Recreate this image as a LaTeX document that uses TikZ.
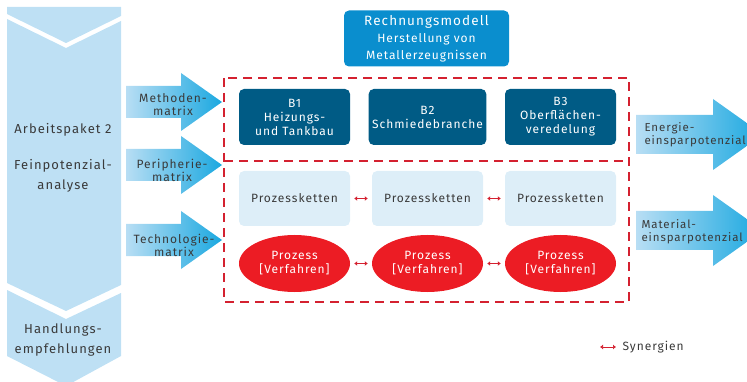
\documentclass[tikz,border=0pt]{standalone}
\usepackage{fontspec}
\setmainfont{Fira Sans}[LetterSpace=8]
\usetikzlibrary{shapes.geometric,arrows.meta}
\definecolor{chevron}{HTML}{BEE0F4}
\definecolor{modelbox}{HTML}{0A8ECE}
\definecolor{darkbox}{HTML}{005B85}
\definecolor{palebox}{HTML}{DDEEF8}
\definecolor{redproc}{HTML}{EC1C24}
\definecolor{dashred}{HTML}{D42130}
\definecolor{arrowlight}{HTML}{B8DEF4}
\definecolor{arrowdark}{HTML}{1AA8E0}
\definecolor{textgray}{HTML}{3A3A3A}
\tikzset{
  branch/.style={fill=darkbox,rounded corners=5pt,text=white,minimum width=111,minimum height=56,align=center,font=\fontsize{12}{14}\selectfont},
  chain/.style={fill=palebox,rounded corners=5pt,text=textgray,minimum width=111,minimum height=55,font=\fontsize{12}{14}\selectfont},
  proc/.style={ellipse,fill=redproc,text=white,minimum width=111,minimum height=57,inner sep=0pt,align=center,font=\fontsize{12}{14}\selectfont},
  syn/.style={{Latex[length=3pt,width=5pt]}-{Latex[length=3pt,width=5pt]},draw=dashred,line width=1pt},
  label/.style={text=textgray,align=center,font=\fontsize{12}{13}\selectfont},
  bigtext/.style={text=textgray,align=center,font=\fontsize{13}{20}\selectfont},
  frame/.style={draw=dashred,line width=2.5pt,dash pattern=on 9pt off 6pt},
  matrixarrow/.style={left color=arrowlight,right color=arrowdark}
}
\newcommand{\fatarrow}[6]{%
  \shade[matrixarrow] (#1,#4-#5) -- (#2,#4-#5) -- (#2,#4-#6) -- (#3,#4)
    -- (#2,#4+#6) -- (#2,#4+#5) -- (#1,#4+#5) -- cycle;}

\begin{document}
\begin{tikzpicture}[x=1pt,y=-1pt]
  \useasboundingbox (0,0) rectangle (747,382);
  % left chevrons
  \fill[chevron] (7,7) -- (121,7) -- (121,16) -- (66,43) -- (7,14) -- cycle;
  \fill[chevron] (7,19) -- (66,48) -- (121,21) -- (121,285) -- (66,311) -- (7,283) -- cycle;
  \fill[chevron] (7,290) -- (66,319) -- (121,293) -- (121,356) -- (66,386) -- (7,356) -- cycle;
  \node[bigtext] (ap) at (63,130) {Arbeitspaket 2};
  \node[bigtext] (fp) at (63,176) {Feinpotenzial-\\analyse};
  \node[bigtext] (hl) at (63,340) {Handlungs-\\empfehlungen};

  % matrix arrows
  \fatarrow{126}{181}{222}{102}{16}{29}
  \fatarrow{126}{181}{222}{165}{16}{29}
  \fatarrow{126}{181}{222}{240}{16}{29}
  \node[label] (mm) at (173,105) {Methoden-\\matrix};
  \node[label] (pm) at (172,170) {Peripherie-\\matrix};
  \node[label] (tm) at (174,245) {Technologie-\\matrix};

  % potential arrows
  \fatarrow{636}{713}{763}{134.5}{19.5}{35.5}
  \fatarrow{636}{713}{763}{230.5}{19.5}{35.5}
  \node[label,align=left,anchor=west,font=\fontsize{11.5}{13}\selectfont] (ep) at (641,135) {Energie-\\einsparpotenzial};
  \node[label,align=left,anchor=west,font=\fontsize{11.5}{13}\selectfont] (mp) at (638,232) {Material-\\einsparpotenzial};

  % model
  \node[fill=modelbox,rounded corners=5pt,text=white,minimum width=165,minimum height=56,align=center,
        font=\fontsize{12}{17}\selectfont] (rm) at (426.5,38.5)
        {{\fontsize{13.5}{17}\selectfont Rechnungsmodell}\\Herstellung von\\Metallerzeugnissen};

  % frame
  \draw[frame] (224,78) rectangle (629,302);
  \draw[frame] (224,161) -- (629,161);

  \node[branch] (b1) at (294.5,117) {B1\\Heizungs-\\und Tankbau};
  \node[branch] (b2) at (427.5,117) {B2\\Schmiedebranche};
  \node[branch] (b3) at (560.5,117) {B3\\Oberflächen-\\veredelung};

  \node[chain] (pk1) at (294.5,198.5) {Prozessketten};
  \node[chain] (pk2) at (427.5,198.5) {Prozessketten};
  \node[chain] (pk3) at (560.5,198.5) {Prozessketten};

  \node[proc] (pv1) at (294.5,263.5) {Prozess\\{[}Verfahren{]}};
  \node[proc] (pv2) at (427.5,263.5) {Prozess\\{[}Verfahren{]}};
  \node[proc] (pv3) at (560.5,263.5) {Prozess\\{[}Verfahren{]}};

  \draw[syn,shorten <=4pt,shorten >=4pt] (pk1) -- (pk2);
  \draw[syn,shorten <=4pt,shorten >=4pt] (pk2) -- (pk3);
  \draw[syn,shorten <=4pt,shorten >=4pt] (pv1) -- (pv2);
  \draw[syn,shorten <=4pt,shorten >=4pt] (pv2) -- (pv3);

  % legend
  \coordinate (l1) at (600,347);
  \coordinate (l2) at (616,347);
  \draw[syn] (l1) -- (l2);
  \node[label,anchor=west] (sy) at (619,347) {Synergien};
\end{tikzpicture}
\end{document}
